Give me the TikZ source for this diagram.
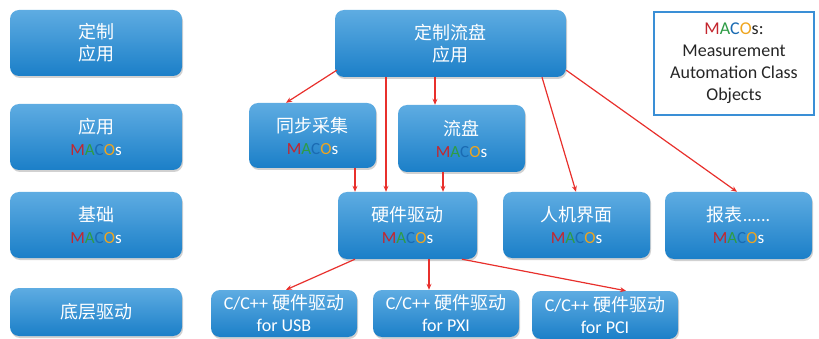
\documentclass[tikz,border=0pt]{standalone}
\usepackage{fontspec}
\setmainfont{Carlito}
\newfontfamily\cjk{Noto Sans CJK SC}
\usetikzlibrary{shadows,arrows.meta,calc}
\definecolor{boxtop}{HTML}{5EACE2}
\definecolor{boxbot}{HTML}{1B7FC8}
\definecolor{mred}{HTML}{C4262E}
\definecolor{mgreen}{HTML}{2E9C45}
\definecolor{mblue}{HTML}{1A6BB3}
\definecolor{morange}{HTML}{EFA51E}
\definecolor{arrred}{HTML}{E8302C}
\definecolor{legblue}{HTML}{3A8FD6}
\definecolor{legtext}{HTML}{262626}
\newcommand{\macos}{{\fontsize{17}{22}\selectfont\color{mred}M}{\fontsize{17}{22}\selectfont\color{mgreen}A}{\fontsize{17}{22}\selectfont\color{mblue}C}{\fontsize{17}{22}\selectfont\color{morange}O}{\fontsize{17}{22}\selectfont s}}
\newcommand{\macoslegend}{{\color{mred}M}{\color{mgreen}A}{\color{mblue}C}{\color{morange}O}s}
\tikzset{
  box/.style={rounded corners=9pt, top color=boxtop, bottom color=boxbot, draw=none,
    text=white, align=center, font=\fontsize{18}{22}\selectfont, inner sep=0pt,
    drop shadow={shadow xshift=1pt, shadow yshift=-2pt, opacity=0.3, fill=black!60}},
  legendbox/.style={draw=legblue, line width=1.6pt, fill=white, text=legtext,
    align=center, font=\fontsize{18}{22}\selectfont, inner sep=0pt},
  arr/.style={draw=arrred, line width=1.2pt, -{Stealth[length=6pt,width=5pt]}}
}
\begin{document}
\begin{tikzpicture}[x=1pt,y=-1pt]
\useasboundingbox (0,0) rectangle (819,339);
% left column
\node[box, minimum width=172pt, minimum height=66pt] (l1) at (96,43) {\cjk 定制\\\cjk 应用};
\node[box, minimum width=172pt, minimum height=66pt] (l2) at (96,137) {\cjk 应用\\\macos};
\node[box, minimum width=172pt, minimum height=66pt] (l3) at (96,225) {\cjk 基础\\\macos};
\node[box, minimum width=172pt, minimum height=48pt] (l4) at (96,312) {\cjk 底层驱动};
% main tree
\node[box, minimum width=231pt, minimum height=67pt] (top) at (450.5,43.5) {\cjk 定制流盘\\\cjk 应用};
\node[box, minimum width=127pt, minimum height=65pt] (sync) at (312.5,135.5) {\cjk 同步采集\\\macos};
\node[box, minimum width=127pt, minimum height=67pt] (lp) at (461.5,138.5) {\cjk 流盘\\\macos};
\node[box, minimum width=139pt, minimum height=67pt] (hw) at (407.5,225.5) {\cjk 硬件驱动\\\macos};
\node[box, minimum width=147pt, minimum height=66pt] (hmi) at (576.5,225) {\cjk 人机界面\\\macos};
\node[box, minimum width=147pt, minimum height=67pt] (rep) at (738.5,225.5) {{\cjk 报表}......\\\macos};
\node[box, minimum width=146pt, minimum height=47pt] (usb) at (284,313.5) {C/C++ {\cjk 硬件驱动}\\for USB};
\node[box, minimum width=146pt, minimum height=47pt] (pxi) at (446,313.5) {C/C++ {\cjk 硬件驱动}\\for PXI};
\node[box, minimum width=146pt, minimum height=48pt] (pci) at (605,315) {C/C++ {\cjk 硬件驱动}\\for PCI};
% legend
\node[legendbox, minimum width=160pt, minimum height=103pt] (leg) at (734,63.5)
  {\macoslegend:\\Measurement\\Automation Class\\Objects};
% arrows
\draw[arr] ([shift={(2pt,7pt)}]top.south west) -- (286,0 |- sync.north);
\draw[arr] (386,0 |- top.south) -- (386,0 |- hw.north);
\draw[arr] (435,0 |- top.south) -- (435,0 |- lp.north);
\draw[arr] (542,0 |- top.south) -- (576,0 |- hmi.north);
\draw[arr] ([yshift=7pt]top.south east) -- (737,0 |- rep.north);
\draw[arr] (355,0 |- sync.south) -- (355,0 |- hw.north);
\draw[arr] (443,0 |- lp.south) -- (443,0 |- hw.north);
\draw[arr] (355,0 |- hw.south) -- (286,0 |- usb.north);
\draw[arr] (429,0 |- hw.south) -- (429,0 |- pxi.north);
\draw[arr] (462,0 |- hw.south) -- (626,0 |- pci.north);
\end{tikzpicture}
\end{document}
